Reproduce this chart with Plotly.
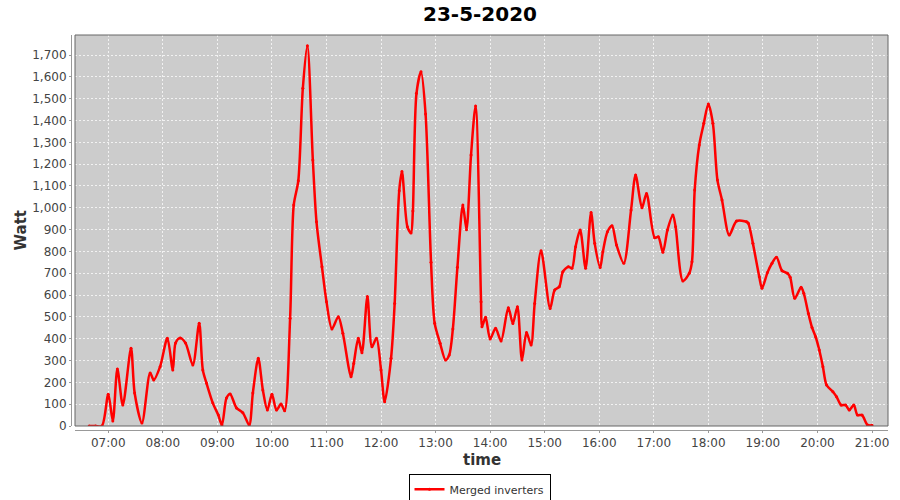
import plotly.graph_objects as go

date = "2020-05-23"
times = ["06:39", "06:46", "06:53", "07:00", "07:05", "07:10", "07:16", "07:25", "07:29", "07:37",
         "07:46", "07:50", "07:57", "08:05", "08:11", "08:14", "08:19", "08:25", "08:33", "08:40",
         "08:44", "08:48", "08:55", "09:01", "09:05", "09:10", "09:14", "09:21", "09:28", "09:35",
         "09:39", "09:45", "09:50", "09:55", "10:00", "10:05", "10:10", "10:14", "10:20", "10:24",
         "10:29", "10:34", "10:39", "10:45", "10:49", "10:55", "11:00", "11:06", "11:13", "11:18",
         "11:27", "11:30", "11:35", "11:39", "11:45", "11:50", "11:55", "12:00", "12:04", "12:11",
         "12:15", "12:20", "12:23", "12:29", "12:33", "12:35", "12:39", "12:44", "12:49", "12:55",
         "12:59", "13:05", "13:11", "13:15", "13:19", "13:24", "13:30", "13:34", "13:39", "13:44",
         "13:50", "13:51", "13:55", "14:00", "14:06", "14:12", "14:20", "14:25", "14:30", "14:35",
         "14:40", "14:45", "14:49", "14:56", "15:06", "15:11", "15:16", "15:20", "15:26", "15:30",
         "15:34", "15:39", "15:45", "15:51", "15:55", "16:01", "16:04", "16:09", "16:14", "16:19",
         "16:27", "16:35", "16:40", "16:47", "16:52", "17:01", "17:05", "17:10", "17:15", "17:21",
         "17:24", "17:32", "17:39", "17:42", "17:45", "17:50", "17:55", "18:00", "18:05", "18:10",
         "18:15", "18:23", "18:31", "18:42", "18:44", "18:49", "18:56", "18:59", "19:05", "19:10",
         "19:15", "19:21", "19:27", "19:30", "19:35", "19:42", "19:45", "19:50", "19:54", "19:58",
         "20:02", "20:06", "20:10", "20:17", "20:21", "20:26", "20:31", "20:35", "20:40", "20:44",
         "20:49", "20:55", "21:00"]
watts = [0, 0, 0, 146, 23, 261, 96, 356, 151, 14,
         243, 211, 272, 402, 257, 380, 403, 380, 280, 471,
         257, 197, 105, 50, 5, 128, 147, 83, 61, 5,
         151, 310, 165, 73, 145, 73, 101, 70, 494, 1013,
         1124, 1548, 1743, 1219, 936, 730, 570, 445, 501, 425,
         226, 287, 402, 336, 593, 363, 402, 257, 111, 310,
         562, 1078, 1166, 913, 885, 985, 1525, 1624, 1430, 750,
         471, 379, 302, 325, 445, 727, 1013, 900, 1242, 1467,
         570, 455, 498, 399, 448, 390, 542, 470, 547, 302,
         428, 371, 562, 803, 539, 623, 638, 707, 730, 723,
         822, 898, 723, 978, 837, 726, 799, 890, 918, 830,
         746, 990, 1150, 1000, 1066, 863, 867, 796, 898, 967,
         913, 665, 700, 753, 1082, 1288, 1387, 1476, 1387, 1127,
         1036, 875, 939, 936, 929, 837, 684, 631, 703, 746,
         773, 712, 700, 682, 585, 636, 608, 516, 452, 409,
         348, 272, 188, 157, 134, 96, 96, 73, 96, 50,
         50, 5, 3]
series_name = "Merged inverters"
title_text = "23-5-2020"
x_title = "time"
y_title = "Watt"

x = [f"{date} {t}" for t in times]

fig = go.Figure()
fig.add_trace(go.Scatter(
    x=x, y=watts, name=series_name, mode="lines+markers",
    line=dict(color="#ff0000", width=2.5, shape="spline", smoothing=0.8),
    marker=dict(color="#ff0000", size=3),
    showlegend=True,
))

font_family = "DejaVu Sans, Liberation Sans, sans-serif"
fig.update_layout(
    width=900, height=500,
    margin=dict(l=71, r=12, t=35, b=70, autoexpand=False),
    paper_bgcolor="white",
    plot_bgcolor="#cccccc",
    font=dict(family=font_family, size=12, color="#444444"),
    showlegend=True,
    legend=dict(orientation="h", x=0.5, xanchor="center", y=-0.111, yanchor="top",
                bgcolor="white", bordercolor="black", borderwidth=1,
                font=dict(size=11, color="#333333"), itemwidth=30,
                tracegroupgap=0),
    xaxis=dict(
        type="date",
        domain=[4 / 817, 1],
        anchor="free", position=0,
        range=[f"{date} 06:23:24", f"{date} 21:17:36"],
        tickformat="%H:%M", dtick=3600000, tick0=f"{date} 07:00",
        showgrid=True, gridcolor="#f2f2f2", griddash="2px,2px", gridwidth=1,
        showline=True, linecolor="#999999", linewidth=1,
        ticks="outside", ticklen=2, tickcolor="#999999",
        tickfont=dict(size=12, color="#444444"),
        zeroline=False,
    ),
    yaxis=dict(
        domain=[4 / 395, 1],
        anchor="free", position=0,
        range=[0, 1792],
        dtick=100, tick0=0, tickformat=",",
        showgrid=True, gridcolor="#f2f2f2", griddash="2px,2px", gridwidth=1,
        showline=True, linecolor="#999999", linewidth=1,
        ticks="outside", ticklen=2, tickcolor="#999999",
        tickfont=dict(size=12, color="#444444"),
        zeroline=False,
    ),
    shapes=[dict(type="rect", xref="x domain", yref="y domain", x0=0, x1=1, y0=0, y1=1,
                 line=dict(color="#666666", width=1), fillcolor="rgba(0,0,0,0)", layer="above")],
    annotations=[
        dict(text=f"<b>{title_text}</b>", xref="paper", yref="paper", x=0.5, y=1,
             yshift=21, xanchor="center", yanchor="middle", showarrow=False,
             font=dict(size=20, color="black", family=font_family)),
        dict(text=f"<b>{x_title}</b>", xref="x domain", yref="paper", x=0.5, y=0,
             yshift=-30, xanchor="center", yanchor="middle", showarrow=False,
             font=dict(size=15, color="#333333", family=font_family)),
        dict(text=f"<b>{y_title}</b>", xref="paper", yref="y domain", x=0, y=0.5,
             xshift=-51, xanchor="center", yanchor="middle", showarrow=False, textangle=-90,
             font=dict(size=15, color="#333333", family=font_family)),
    ],
)

fig.write_html("out.html", config={"displayModeBar": False},
               post_script="document.body.style.margin='0';document.body.style.overflow='hidden';")
